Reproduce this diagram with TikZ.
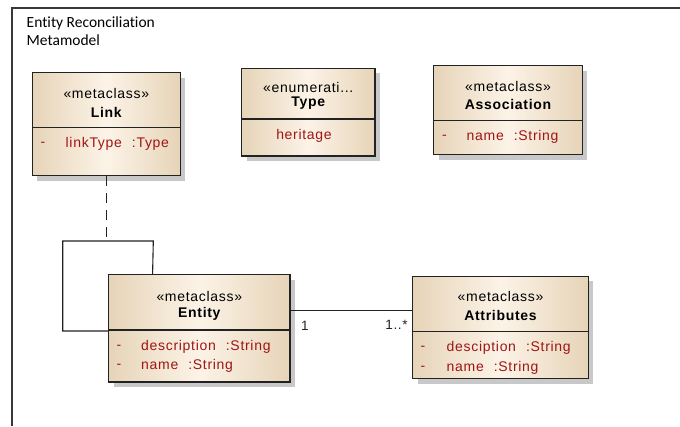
\documentclass[tikz,border=0pt]{standalone}
\usepackage{fontspec}
\setmainfont{Liberation Sans}
\newfontfamily\boxfont[LetterSpace=5]{Liberation Sans}
\newfontfamily\titlefont[Ligatures=NoCommon]{Carlito}
\usetikzlibrary{shadows}
\definecolor{beigeedge}{HTML}{E6D4B8}
\definecolor{beigemid}{HTML}{FCF3E7}
\definecolor{attrred}{HTML}{A01515}
\definecolor{linec}{HTML}{222222}
\definecolor{shadowc}{HTML}{C8C8C8}
\newcommand{\gapsp}{\hspace{10pt}}
\tikzset{
  umlbox/.style={rectangle, draw=linec, line width=1.3pt, left color=beigeedge, right color=beigeedge, middle color=beigemid,
    drop shadow={shadow xshift=5pt, shadow yshift=-5pt, fill=shadowc, opacity=1}, inner sep=0pt},
  stereo/.style={font=\boxfont\fontsize{14}{16}\selectfont, text=black, inner sep=0pt},
  cname/.style={font=\boxfont\fontsize{14}{16}\selectfont\bfseries, text=black, inner sep=0pt},
  attr/.style={font=\boxfont\fontsize{14}{16}\selectfont, text=attrred, inner sep=0pt, anchor=west},
  mult/.style={font=\boxfont\fontsize{13.5}{15}\selectfont, text=linec, inner sep=0pt},
  divider/.style={draw=linec, line width=1.1pt},
  conn/.style={draw=linec, line width=1.1pt},
}
\begin{document}
\begin{tikzpicture}[x=1pt,y=-1pt]
\useasboundingbox (0,0) rectangle (680,426);
% frame
\draw[linec!90, line width=1.4pt] (12,426) -- (12,8) -- (680,8);
\node[font=\titlefont\fontsize{15.5}{18}\selectfont, anchor=north west, align=left, inner sep=0pt] (title) at (26.5,17) {Entity Reconciliation\\Metamodel};

% Link
\node[umlbox, minimum width=148pt, minimum height=103pt] (L) at (106.3,124.2) {};
\draw[divider] (L.west |- 0,127.7) -- (L.east |- 0,127.7);
\node[stereo] (Ls) at (106.3,93) {«metaclass»};
\node[cname] (Ln) at (106.3,112) {Link};
\node[attr] (La1d) at (40.5,144) {-};
\node[attr] (La1) at (65.5,144) {linkType\gapsp:Type};

% Type
\node[umlbox, minimum width=133.3pt, minimum height=87.7pt] (T) at (308.3,112.2) {};
\draw[divider] (T.west |- 0,119) -- (T.east |- 0,119);
\node[stereo] (Ts) at (308.3,87) {«enumerati...};
\node[cname] (Tn) at (308.3,103.5) {Type};
\node[attr, anchor=center] (Ta1) at (304,136) {heritage};

% Association
\node[umlbox, minimum width=148.6pt, minimum height=89pt] (As) at (508,110.2) {};
\draw[divider] (As.west |- 0,120.7) -- (As.east |- 0,120.7);
\node[stereo] (Ass) at (508,86) {«metaclass»};
\node[cname] (Asn) at (508,104) {Association};
\node[attr] (Asa1d) at (442,137) {-};
\node[attr] (Asa1) at (466.5,137) {name\gapsp:String};

% Entity
\node[umlbox, minimum width=181.3pt, minimum height=107.3pt] (E) at (199.3,328.3) {};
\draw[divider] (E.west |- 0,330) -- (E.east |- 0,330);
\node[stereo] (Es) at (199.3,296) {«metaclass»};
\node[cname] (En) at (199.3,314) {Entity};
\node[attr] (Ea1d) at (116.5,347.3) {-};
\node[attr] (Ea1) at (141,347.3) {description\gapsp:String};
\node[attr] (Ea2d) at (116.5,366.3) {-};
\node[attr] (Ea2) at (141,366.3) {name\gapsp:String};

% Attributes
\node[umlbox, minimum width=175.6pt, minimum height=102.4pt] (A) at (500.5,327.5) {};
\draw[divider] (A.west |- 0,331.3) -- (A.east |- 0,331.3);
\node[stereo] (Ats) at (500.5,296.5) {«metaclass»};
\node[cname] (Atn) at (500.5,315) {Attributes};
\node[attr] (Aa1d) at (420.5,348) {-};
\node[attr] (Aa1) at (446.5,348) {desciption\gapsp:String};
\node[attr] (Aa2d) at (420.5,368) {-};
\node[attr] (Aa2) at (446.5,368) {name\gapsp:String};

% self loop on Entity
\coordinate (lpA) at (153.3,241);
\coordinate (lpB) at (62.7,331);
\draw[conn] ([xshift=44.6pt]E.north west) -- (lpA) -| (lpB) -- (E.west |- lpB);
% dashed association-class link
\coordinate (lpT) at (106.5,241);
\draw[conn, dash pattern=on 10pt off 7pt] (L.south -| lpT) -- (lpT);

% association Entity - Attributes
\coordinate (ay) at (0,310.7);
\draw[conn] (E.east |- ay) -- (A.west |- ay);
\node[mult] (m1) at (305,326) {1};
\node[mult] (m2) at (396.5,325) {1..*};
\end{tikzpicture}
\end{document}
